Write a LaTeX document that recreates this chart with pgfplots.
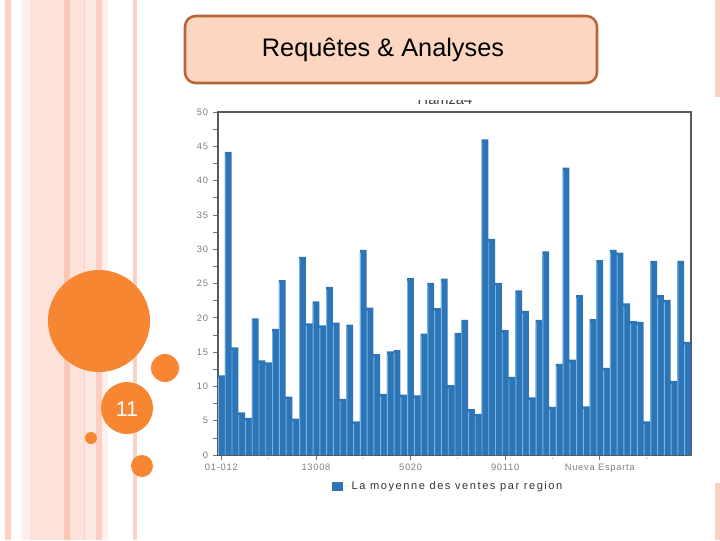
\documentclass[border=0pt]{standalone}
\usepackage{pgfplots}
\usepackage{pgfplotstable}
\usepackage{fontspec}
\setmainfont{Liberation Sans}
\newfontfamily\lab{Liberation Sans}[LetterSpace=8]
\newfontfamily\leg{Liberation Sans}[LetterSpace=14]
\pgfplotsset{compat=1.18}

\definecolor{barblue}{RGB}{46,117,182}
\definecolor{barhi}{RGB}{110,182,238}
\definecolor{dot}{RGB}{247,134,50}
\definecolor{peach}{RGB}{252,214,192}
\definecolor{boxedge}{RGB}{185,100,55}
\definecolor{tickgray}{RGB}{125,125,125}
\definecolor{s1}{RGB}{251,208,194}
\definecolor{s2}{RGB}{253,226,217}
\definecolor{s3}{RGB}{250,198,182}
\definecolor{s4}{RGB}{253,232,225}
\definecolor{s5}{RGB}{254,241,237}

% moyenne des ventes par region, 70 regions
\pgfplotstableread{
x y
1 11.6
2 44.2
3 15.7
4 6.2
5 5.4
6 19.9
7 13.8
8 13.5
9 18.4
10 25.5
11 8.5
12 5.3
13 28.9
14 19.2
15 22.4
16 18.9
17 24.5
18 19.3
19 8.2
20 19.0
21 4.9
22 29.9
23 21.5
24 14.7
25 8.9
26 15.1
27 15.3
28 8.8
29 25.8
30 8.7
31 17.7
32 25.1
33 21.4
34 25.7
35 10.2
36 17.8
37 19.7
38 6.7
39 6.0
40 46.0
41 31.5
42 25.1
43 18.2
44 11.4
45 24.0
46 21.0
47 8.4
48 19.7
49 29.7
50 7.0
51 13.3
52 41.9
53 13.9
54 23.3
55 7.1
56 19.8
57 28.4
58 12.7
59 29.9
60 29.5
61 22.1
62 19.5
63 19.4
64 4.9
65 28.3
66 23.3
67 22.6
68 10.8
69 28.3
70 16.5
}\ventes

\begin{document}
\begin{tikzpicture}
\useasboundingbox (0,0) rectangle (540pt,405pt);

% slide background, in pixel units (y down)
\begin{scope}[x=0.75pt, y=-0.75pt, yshift=405pt]
  \fill[s1] (5,0) rectangle (11,540);
  \fill[s5] (21,0) rectangle (30,540);
  \fill[s2] (30,0) rectangle (64,540);
  \fill[s3] (64,0) rectangle (70,540);
  \fill[s2] (70,0) rectangle (84,540);
  \fill[s1] (84,0) rectangle (85,540);
  \fill[s4] (85,0) rectangle (96,540);
  \fill[s1] (96,0) rectangle (102,540);
  \fill[s5] (102,0) rectangle (108,540);
  \fill[s1] (133,0) rectangle (137,540);
  \fill[s1] (715,0) rectangle (720,97);
  \fill[s1] (715,483) rectangle (720,540);
  \fill[white] (180,97) rectangle (714,505);
  \fill[dot] (99,321) circle[radius=51];
  \fill[dot] (165,368) circle[radius=14];
  \fill[dot] (127,408) circle[radius=26];
  \fill[dot] (91,438) circle[radius=6];
  \fill[dot] (142,466) circle[radius=11];
  \node[text=white, font=\fontsize{16}{18}\selectfont] at (127,409) {11};
  \begin{scope}
    \clip (380,100.5) rectangle (520,115);
    \node[text=black!75, font=\fontsize{11}{13}\selectfont] at (445,100) {Hamza4};
  \end{scope}
  \draw[boxedge, line width=1.9pt, fill=peach, rounded corners=8pt] (185,16) rectangle (597,83);
  \node[font=\fontsize{19}{22}\selectfont] at (383,50) {Requêtes \& Analyses};
\end{scope}

\begin{axis}[
  at={(163.5pt,63.75pt)}, anchor=south west,
  scale only axis, width=354.75pt, height=257.25pt,
  xmin=0.5, xmax=70.5, ymin=0, ymax=50,
  ytick={0,5,...,50}, minor ytick={2.5,7.5,...,47.5},
  xtick={1,15,29,43,57},
  xticklabels={01-012,13008,5020,90110,Nueva Esparta},
  extra x ticks={8,22,36,50,64},
  extra x tick labels={·,·,·,·,·},
  extra x tick style={major tick length=0pt},
  tick align=outside, xtick pos=bottom, ytick pos=left,
  major tick length=4pt, minor tick length=4pt,
  axis line style={draw=black!65, line width=0.8pt},
  tick style={black!55, line width=0.5pt},
  ticklabel style={font=\lab\fontsize{7}{8}\selectfont, text=tickgray},
  xticklabel style={yshift=1pt},
  /pgf/number format/assume math mode=true,
  legend style={at={(0.487,-0.092)}, anchor=center, draw=none, fill=none,
    font=\leg\fontsize{8.3}{10}\selectfont, text=black!80},
  legend image code/.code={\fill[barblue] (0pt,-3.6pt) rectangle (8.5pt,3.6pt); \path (0pt,0pt) -- (13pt,0pt);},
  clip=false,
]
\addplot[ybar, bar width=5.07pt, bar shift=0pt, fill=barblue, draw=none] table[x=x, y=y] {\ventes};
\addlegendentry{La moyenne des ventes par region}
\addplot[ybar, bar width=0.7pt, bar shift=-2.18pt, fill=barhi, draw=none, forget plot] table[x=x, y expr=\thisrow{y}-0.4] {\ventes};
\end{axis}
\end{tikzpicture}
\end{document}
